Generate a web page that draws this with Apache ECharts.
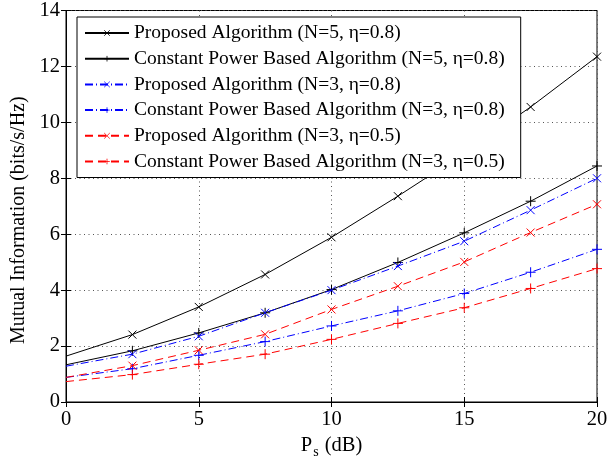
<!DOCTYPE html>
<html>
<head>
<meta charset="utf-8">
<script src="https://cdn.jsdelivr.net/npm/echarts@6/dist/echarts.min.js"></script>
<style>
  html, body { margin: 0; padding: 0; background: #fff; }
  #chart { width: 611px; height: 465px; }
</style>
</head>
<body>
<div id="chart"></div>
<script>
const powerDb = [0, 2.5, 5, 7.5, 10, 12.5, 15, 17.5, 20];
const propN5e8 = [1.64, 2.41, 3.40, 4.56, 5.89, 7.36, 8.90, 10.55, 12.35];
const constN5e8 = [1.33, 1.83, 2.47, 3.19, 4.02, 4.99, 6.05, 7.18, 8.44];
const propN3e8 = [1.28, 1.71, 2.35, 3.19, 4.00, 4.86, 5.75, 6.86, 8.00];
const constN3e8 = [0.88, 1.19, 1.67, 2.16, 2.72, 3.26, 3.88, 4.64, 5.46];
const propN3e5 = [0.88, 1.30, 1.85, 2.42, 3.31, 4.14, 5.01, 6.06, 7.07];
const constN3e5 = [0.73, 0.98, 1.35, 1.71, 2.24, 2.81, 3.37, 4.06, 4.77];

const seriesNames = [
  'Proposed Algorithm (N=5, η=0.8)',
  'Constant Power Based Algorithm (N=5, η=0.8)',
  'Proposed Algorithm (N=3, η=0.8)',
  'Constant Power Based Algorithm (N=3, η=0.8)',
  'Proposed Algorithm (N=3, η=0.5)',
  'Constant Power Based Algorithm (N=3, η=0.5)'
];

const FONT = '"Liberation Serif", "DejaVu Serif", serif';
const CROSS = 'path://M0,0L10,10M10,0L0,10';
const PLUS = 'path://M5,0L5,10M0,5L10,5';

// markers are not drawn at the first point (x = 0)
const toData = (ys) => ys.map((y, i) => i === 0 ? { value: [powerDb[i], y], symbol: 'none' } : [powerDb[i], y]);

const makeSeries = (name, ys, color, dash, marker, size) => ({
  name,
  type: 'line',
  data: toData(ys),
  symbol: marker,
  symbolSize: size,
  showAllSymbol: true,
  lineStyle: { color, width: 1, type: dash },
  itemStyle: { color, borderColor: color, borderWidth: 1 },
  emphasis: { disabled: true },
  animation: false,
  z: 3
});

const chart = echarts.init(document.getElementById('chart'));

const axisCommon = {
  axisLine: { lineStyle: { color: '#000', width: 1 } },
  axisTick: { inside: true, length: 5, lineStyle: { color: '#000' } },
  axisLabel: { color: '#000', fontFamily: FONT, fontSize: 20.5 }
};

chart.setOption({
  backgroundColor: '#fff',
  animation: false,
  grid: { left: 66, right: 14, top: 7, bottom: 63, show: true, borderColor: '#000', borderWidth: 1 },
  legend: {
    data: seriesNames,
    orient: 'vertical',
    left: 77,
    top: 17,
    itemWidth: 44,
    itemHeight: 7,
    itemGap: 5.7,
    padding: [6, 16, 6, 7],
    backgroundColor: '#fff',
    borderColor: '#000',
    borderWidth: 1,
    z: 10,
    itemStyle: { borderWidth: 0.8 },
    textStyle: { fontFamily: FONT, fontSize: 19.5, lineHeight: 20, color: '#000' }
  },
  xAxis: [
    {
      ...axisCommon,
      type: 'value',
      min: 0, max: 20, interval: 5,
      axisLabel: { ...axisCommon.axisLabel, margin: 7 },
      splitLine: { show: true, lineStyle: { color: '#555', type: [1, 3.5], width: 1 } },
      name: '{a|P}{s|s}{a| (dB)}',
      nameLocation: 'middle',
      nameGap: 27,
      nameTextStyle: {
        rich: {
          a: { fontFamily: FONT, fontSize: 20.5, color: '#000' },
          s: { fontFamily: FONT, fontSize: 14, color: '#000', padding: [14, 1, 0, 1] }
        }
      }
    },
    {
      ...axisCommon,
      type: 'value', position: 'top',
      min: 0, max: 20, interval: 5,
      axisLabel: { show: false },
      splitLine: { show: false }
    }
  ],
  yAxis: [
    {
      ...axisCommon,
      type: 'value',
      min: 0, max: 14, interval: 2,
      axisLabel: { ...axisCommon.axisLabel, margin: 6 },
      splitLine: { show: true, lineStyle: { color: '#555', type: [1, 3.5], width: 1 } },
      name: 'Mutual Information (bits/s/Hz)',
      nameLocation: 'middle',
      nameGap: 32,
      nameTextStyle: { fontFamily: FONT, fontSize: 20, color: '#000', padding: [0, 28, 0, 0] }
    },
    {
      ...axisCommon,
      type: 'value', position: 'right',
      min: 0, max: 14, interval: 2,
      axisLabel: { show: false },
      splitLine: { show: false }
    }
  ],
  series: [
    makeSeries(seriesNames[0], propN5e8, '#000000', 'solid', CROSS, 8),
    makeSeries(seriesNames[1], constN5e8, '#000000', 'solid', PLUS, 10),
    makeSeries(seriesNames[2], propN3e8, '#0000ff', [8, 3, 1, 3], CROSS, 8),
    makeSeries(seriesNames[3], constN3e8, '#0000ff', [8, 3, 1, 3], PLUS, 10),
    makeSeries(seriesNames[4], propN3e5, '#ff0000', [8, 5], CROSS, 8),
    makeSeries(seriesNames[5], constN3e5, '#ff0000', [8, 5], PLUS, 10)
  ]
});
</script>
</body>
</html>
